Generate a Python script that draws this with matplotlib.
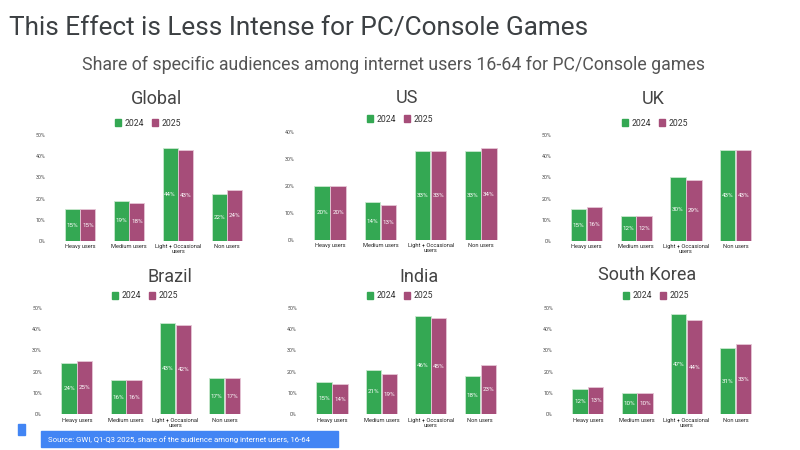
import matplotlib
matplotlib.use("Agg")
import matplotlib.pyplot as plt
from matplotlib.patches import Rectangle, Patch

plt.rcParams['font.family'] = ['Roboto', 'DejaVu Sans']

# data
categories = ['Heavy users', 'Medium users', 'Light + Occasional\nusers', 'Non users']
years = ['2024', '2025']

global_2024 = [15, 19, 44, 22]
global_2025 = [15, 18, 43, 24]
us_2024 = [20, 14, 33, 33]
us_2025 = [20, 13, 33, 34]
uk_2024 = [15, 12, 30, 43]
uk_2025 = [16, 12, 29, 43]
brazil_2024 = [24, 16, 43, 17]
brazil_2025 = [25, 16, 42, 17]
india_2024 = [15, 21, 46, 18]
india_2025 = [14, 19, 45, 23]
korea_2024 = [12, 10, 47, 31]
korea_2025 = [13, 10, 44, 33]

green = '#34a853'
magenta = '#a64d79'
W, H = 800, 450

fig = plt.figure(figsize=(8, 4.5), dpi=100)
fig.patch.set_facecolor('white')


def px(x, y):
    return x / W, 1 - y / H


# panel layout in pixels: name, values, left, right, y of 0, y of top, ymax, title x/y, legend x/y
panels = [
    ('Global', global_2024, global_2025, 55.5, 251.5, 241, 135, 50, 157, 99, 148, 123),
    ('US', us_2024, us_2025, 305, 506, 240, 132, 40, 407, 98, 400, 119),
    ('UK', uk_2024, uk_2025, 561.7, 760.4, 241, 135, 50, 653, 99, 655, 123),
    ('Brazil', brazil_2024, brazil_2025, 52.4, 249.1, 414.3, 307.7, 50, 170, 277, 145, 296),
    ('India', india_2024, india_2025, 307.3, 505, 414.3, 307.7, 50, 419, 277, 400, 296),
    ('South Korea', korea_2024, korea_2025, 563.4, 760.1, 414.3, 307.7, 50, 647, 275, 656, 296),
]

for name, v24, v25, left, right, y0, ytop, ymax, tx, ty, lx, ly in panels:
    l, b = px(left, y0)
    ax = fig.add_axes([l, b, (right - left) / W, (y0 - ytop) / H])
    x = range(len(categories))
    b1 = ax.bar([i - 0.16 for i in x], v24, width=0.31, color=green,
                edgecolor='#c9e8cf', linewidth=0.6, label=years[0])
    b2 = ax.bar([i + 0.16 for i in x], v25, width=0.31, color=magenta,
                edgecolor='#e6c6d6', linewidth=0.6, label=years[1])
    for bars, vals in [(b1, v24), (b2, v25)]:
        for r, v in zip(bars, vals):
            ax.text(r.get_x() + r.get_width() / 2, v / 2, f'{v}%',
                    ha='center', va='center', color='white', fontsize=4.5)
    ax.set_xlim(-0.5, 3.5)
    ax.set_ylim(0, ymax)
    ax.set_yticks(range(0, ymax + 1, 10))
    ax.set_yticklabels([f'{t}%' for t in range(0, ymax + 1, 10)], fontsize=3.8, color='#444444')
    ax.set_xticks(list(x))
    ax.set_xticklabels(categories, fontsize=4.1, color='#222222', linespacing=0.95)
    ax.tick_params(axis='y', length=0, pad=7.5)
    ax.tick_params(axis='x', length=0, pad=2.5)
    for s in ax.spines.values():
        s.set_visible(False)
    ax.set_facecolor('none')

    fx, fy = px(tx, ty)
    fig.text(fx, fy, name, ha='center', va='center', fontsize=13, color='#444444')
    gx, gy = px(lx, ly)
    ax.legend(handles=[Patch(color=green, label=years[0]), Patch(color=magenta, label=years[1])],
              loc='center', bbox_to_anchor=(gx, gy), bbox_transform=fig.transFigure,
              ncol=2, frameon=False, fontsize=6.2, handlelength=0.7, handleheight=0.7,
              columnspacing=1.0, handletextpad=0.4, labelcolor='#333333')

# titles
fig.text(*px(9, 35), 'This Effect is Less Intense for PC/Console Games',
         ha='left', va='baseline', fontsize=18.8, color='#3c4043')
fig.text(*px(393, 70), 'Share of specific audiences among internet users 16-64 for PC/Console games',
         ha='center', va='baseline', fontsize=12.8, color='#555555')

# source box
sx, sy = px(40.7, 447.3)
fig.patches.append(Rectangle((sx, sy), (338.3 - 40.7) / W, 16 / H, transform=fig.transFigure,
                             color='#4285f4', zorder=0))
fig.patches.append(Rectangle(px(18.3, 435), 6.7 / W, 11.5 / H, transform=fig.transFigure,
                             color='#4285f4', zorder=0))
fig.text(*px(48.5, 439.3), 'Source: GWI, Q1-Q3 2025, share of the audience among internet users, 16-64',
         ha='left', va='center', fontsize=5.6, color='white')

fig.savefig('out.png', dpi=100)
